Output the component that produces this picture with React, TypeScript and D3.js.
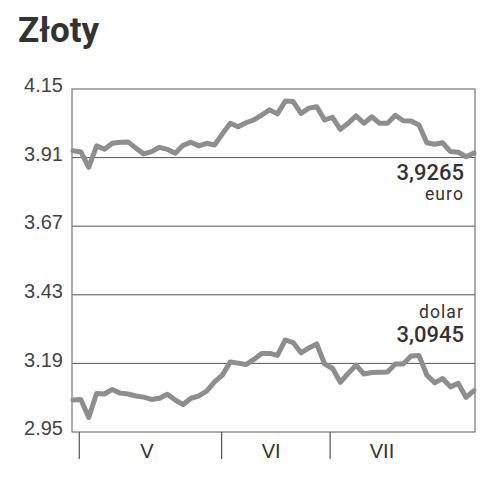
import React from "react";
import * as d3 from "d3";

const title = "Złoty";
const yTicks = [2.95, 3.19, 3.43, 3.67, 3.91, 4.15];
const monthTicks = [0.8, 18.9, 32.7];
const monthLabelPos = [9.4, 25.2, 39.3];
const monthLabels = ["V", "VI", "VII"];

const euro = [
  3.934, 3.93, 3.876, 3.951, 3.939, 3.96, 3.964, 3.965, 3.943, 3.923,
  3.931, 3.946, 3.939, 3.925, 3.953, 3.964, 3.951, 3.96, 3.954, 3.993,
  4.03, 4.018, 4.032, 4.042, 4.059, 4.077, 4.063, 4.108, 4.106, 4.065,
  4.083, 4.088, 4.042, 4.051, 4.009, 4.03, 4.056, 4.03, 4.053, 4.03,
  4.03, 4.058, 4.039, 4.038, 4.024, 3.962, 3.957, 3.962, 3.931, 3.929,
  3.913, 3.9265,
];

const dolar = [
  3.062, 3.064, 3.001, 3.085, 3.083, 3.099, 3.086, 3.083, 3.076, 3.072,
  3.064, 3.068, 3.082, 3.062, 3.046, 3.068, 3.076, 3.093, 3.125, 3.149,
  3.195, 3.191, 3.186, 3.204, 3.225, 3.225, 3.218, 3.272, 3.263, 3.227,
  3.244, 3.258, 3.188, 3.173, 3.124, 3.155, 3.184, 3.153, 3.158, 3.159,
  3.16, 3.188, 3.188, 3.216, 3.218, 3.149, 3.122, 3.137, 3.108, 3.12,
  3.071, 3.0945,
];

const euroLabel = ["3,9265", "euro"];
const dolarLabel = ["dolar", "3,0945"];

export default function App() {
  const W = 481, H = 480;
  const left = 72, right = 475, top = 89, bottom = 432;
  const y = d3.scaleLinear().domain([2.95, 4.15]).range([bottom, top]);
  const x = d3.scaleLinear().domain([0, euro.length - 1]).range([73, 474]);
  const line = d3
    .line<number>()
    .x((_, i) => x(i))
    .y((d) => y(d));

  const fmt = d3.format(".2f");
  const lineColor = "#8e8e8e";

  return (
    <svg
      width={W}
      height={H}
      style={{ position: "absolute", left: 0, top: 0, background: "#fff" }}
    >
      <text
        x={18}
        y={42}
        fontFamily="Roboto"
        fontWeight={700}
        fontSize={35}
        fill="#333"
      >
        {title}
      </text>

      {yTicks.map((t) => (
        <g key={t}>
          {t !== 2.95 && t !== 4.15 && (
            <line x1={left} x2={right} y1={y(t)} y2={y(t)} stroke="#555" strokeWidth={1} />
          )}
          <text
            x={63}
            y={y(t) - 2}
            textAnchor="end"
            dominantBaseline="middle"
            fontFamily="Liberation Sans"
            fontSize={20}
            fill="#444"
          >
            {fmt(t)}
          </text>
        </g>
      ))}

      <rect
        x={left}
        y={top}
        width={right - left}
        height={bottom - top}
        fill="none"
        stroke="#777"
        strokeWidth={1.2}
      />

      {monthTicks.map((m) => (
        <line key={m} x1={x(m)} x2={x(m)} y1={bottom} y2={459} stroke="#555" strokeWidth={1.2} />
      ))}
      {monthLabels.map((lab, i) => (
        <text
          key={lab}
          x={x(monthLabelPos[i])}
          y={458}
          textAnchor="middle"
          fontFamily="Liberation Sans"
          fontSize={20}
          fill="#333"
        >
          {lab}
        </text>
      ))}

      <path d={line(euro) || ""} fill="none" stroke={lineColor} strokeWidth={5} strokeLinejoin="round" strokeLinecap="round" />
      <path d={line(dolar) || ""} fill="none" stroke={lineColor} strokeWidth={5} strokeLinejoin="round" strokeLinecap="round" />

      <text x={464} y={180} textAnchor="end" fontFamily="Roboto" fontWeight={500} fontSize={22} fill="#333">
        {euroLabel[0]}
      </text>
      <text x={464} y={200} textAnchor="end" fontFamily="Roboto" fontSize={17.5} letterSpacing={1.1} fill="#333">
        {euroLabel[1]}
      </text>
      <text x={464} y={318} textAnchor="end" fontFamily="Roboto" fontSize={17.5} letterSpacing={1.1} fill="#333">
        {dolarLabel[0]}
      </text>
      <text x={464} y={342} textAnchor="end" fontFamily="Roboto" fontWeight={500} fontSize={22} fill="#333">
        {dolarLabel[1]}
      </text>
    </svg>
  );
}
